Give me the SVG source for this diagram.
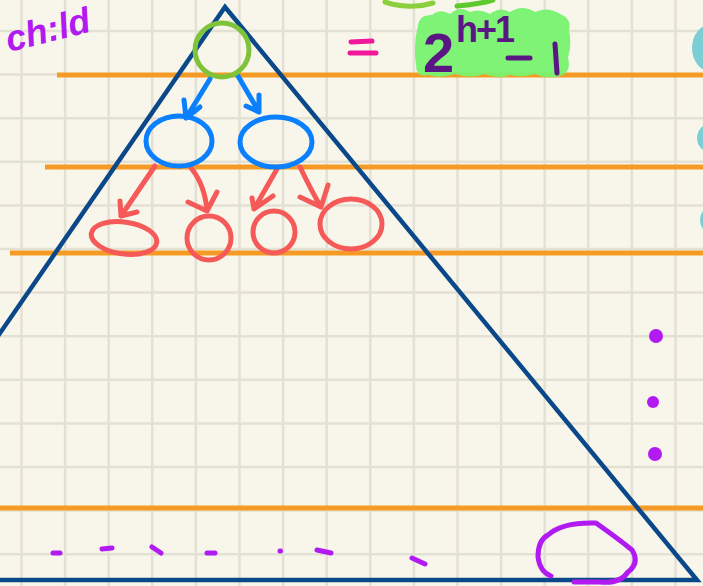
<svg xmlns="http://www.w3.org/2000/svg" width="703" height="586" viewBox="0 0 703 586">
<style>
.g{stroke:#e3e0d4;stroke-width:2.5}
.or{stroke:#f59b25;stroke-width:5;fill:none}
.tri{stroke:#0b4889;stroke-width:4.5;fill:none;stroke-linejoin:miter}
.blue{stroke:#0a80ff;stroke-width:5;fill:none;stroke-linecap:round;stroke-linejoin:round}
.red{stroke:#f55a58;stroke-width:5;fill:none;stroke-linecap:round;stroke-linejoin:round}
.pur{stroke:#b21af2;stroke-width:5;fill:none;stroke-linecap:round;stroke-linejoin:round}
.dot{fill:#b21af2}
.teal{fill:#7dcdd5}
.f{font-family:"Liberation Sans",sans-serif;font-weight:bold;fill:#5a1784}
</style>
<rect width="703" height="586" fill="#f8f6ea"/>
<g id="grid" class="g">
<path d="M21.5 0V586M65.1 0V586M108.7 0V586M152.3 0V586M195.9 0V586M239.5 0V586M283.1 0V586M326.7 0V586M370.3 0V586M413.9 0V586M457.5 0V586M501.1 0V586M544.7 0V586M588.3 0V586M631.9 0V586M675.5 0V586"/>
<path d="M0 31H703M0 74.6H703M0 118.2H703M0 161.8H703M0 205.4H703M0 249H703M0 292.6H703M0 336.2H703M0 379.8H703M0 423.4H703M0 467H703M0 510.6H703M0 554.2H703"/>
</g>

<g id="levels">
<line class="or" x1="57" y1="75" x2="703" y2="75"/>
<line class="or" x1="45" y1="167" x2="703" y2="167"/>
<line class="or" x1="10" y1="253" x2="703" y2="253"/>
<line class="or" x1="0" y1="508" x2="703" y2="508"/>
</g>

<g id="triangle">
<polyline class="tri" points="-2,336 225,7 697,580 -2,580"/>
</g>

<g id="annotations">
<text x="9" y="52" transform="rotate(-14 9 52)" font-family="Liberation Sans, sans-serif" font-style="italic" font-weight="bold" font-size="36" fill="#b21af2">ch:ld</text>
<path d="M385 2 Q410 10 433 3" stroke="#8ccf3d" stroke-width="5" fill="none" stroke-linecap="round"/>
<path d="M457 6 Q480 4 493 0" stroke="#5ec92e" stroke-width="5" fill="none" stroke-linecap="round"/>
<g id="equals" stroke="#f0179b" stroke-width="5" stroke-linecap="round">
<line x1="351" y1="42" x2="372" y2="41"/>
<line x1="350" y1="53" x2="376" y2="53"/>
</g>
<g id="formula">
<path d="M418 25 Q420 14 432 15 Q440 8 450 14 Q460 5 470 12 Q480 8 490 14 Q500 6 510 12 Q522 4 535 12 Q548 6 560 14 Q572 18 569 30 Q572 45 568 58 Q572 72 560 76 Q548 80 535 74 Q522 78 510 75 Q498 80 485 74 Q470 79 455 74 Q440 79 428 75 Q416 78 416 65 Q413 45 418 25 Z" fill="#78f26f" fill-opacity="0.95"/>
<text class="f" x="423" y="72" font-size="56">2</text>
<text class="f" x="456" y="42" font-size="36" letter-spacing="-2">h+1</text>
<line x1="508" y1="58" x2="530" y2="58" stroke="#5a1784" stroke-width="5" stroke-linecap="round"/>
<line x1="555" y1="44" x2="557" y2="73" stroke="#5a1784" stroke-width="5" stroke-linecap="round"/>
</g>
<ellipse class="teal" cx="712" cy="48" rx="20" ry="24"/>
<ellipse class="teal" cx="712" cy="138" rx="15" ry="15"/>
<ellipse class="teal" cx="714" cy="220" rx="14" ry="15"/>
<circle class="dot" cx="656" cy="336" r="7"/>
<circle class="dot" cx="653" cy="402" r="6"/>
<circle class="dot" cx="655" cy="454" r="7"/>
<g id="bottom-dashes" class="pur">
<line x1="53" y1="553" x2="60" y2="553"/>
<line x1="102" y1="549" x2="112" y2="548"/>
<line x1="152" y1="547" x2="161" y2="553"/>
<line x1="207" y1="553" x2="215" y2="553"/>
<line x1="280" y1="551" x2="280.5" y2="551"/>
<line x1="317" y1="550" x2="331" y2="553"/>
<line x1="412" y1="558" x2="425" y2="564"/>
</g>
<path class="pur" d="M551 576 Q540 572 538 557 Q538 540 548 535 Q562 522 596 523 Q620 540 632 550 Q640 563 628 572 Q620 584 600 582 L574 582"/>
</g>

<g id="connectors">
<path class="blue" d="M210 79 L186 118 M184 100 L186 118 L200 107"/>
<path class="blue" d="M238 76 L259 112 M246 106 L259 112 L259 95"/>
<path class="red" d="M155 166 L121 216 M120 201 L121 216 L137 212"/>
<path class="red" d="M191 168 Q205 185 207 211 M188 202 L207 211 L217 192"/>
<path class="red" d="M277 169 L254 209 M252 198 L254 209 L273 196"/>
<path class="red" d="M300 167 Q312 192 321 207 M300 197 L321 207 L328 185"/>
</g>

<g id="root"><circle cx="222" cy="50" r="27" fill="none" stroke="#7fc33a" stroke-width="5"/></g>
<g id="node-l"><ellipse cx="179" cy="141" rx="33" ry="25" fill="none" stroke="#0a80ff" stroke-width="5"/></g>
<g id="node-r"><ellipse cx="276" cy="142" rx="36" ry="25" fill="none" stroke="#0a80ff" stroke-width="5"/></g>
<g id="leaf-1"><ellipse cx="124" cy="238" rx="33" ry="16" transform="rotate(8 124 238)" fill="none" stroke="#f55a58" stroke-width="5"/></g>
<g id="leaf-2"><circle cx="209" cy="238" r="22" fill="none" stroke="#f55a58" stroke-width="5"/></g>
<g id="leaf-3"><circle cx="274" cy="232" r="21" fill="none" stroke="#f55a58" stroke-width="5"/></g>
<g id="leaf-4"><ellipse cx="351" cy="224" rx="31" ry="25" fill="none" stroke="#f55a58" stroke-width="5"/></g>
</svg>
